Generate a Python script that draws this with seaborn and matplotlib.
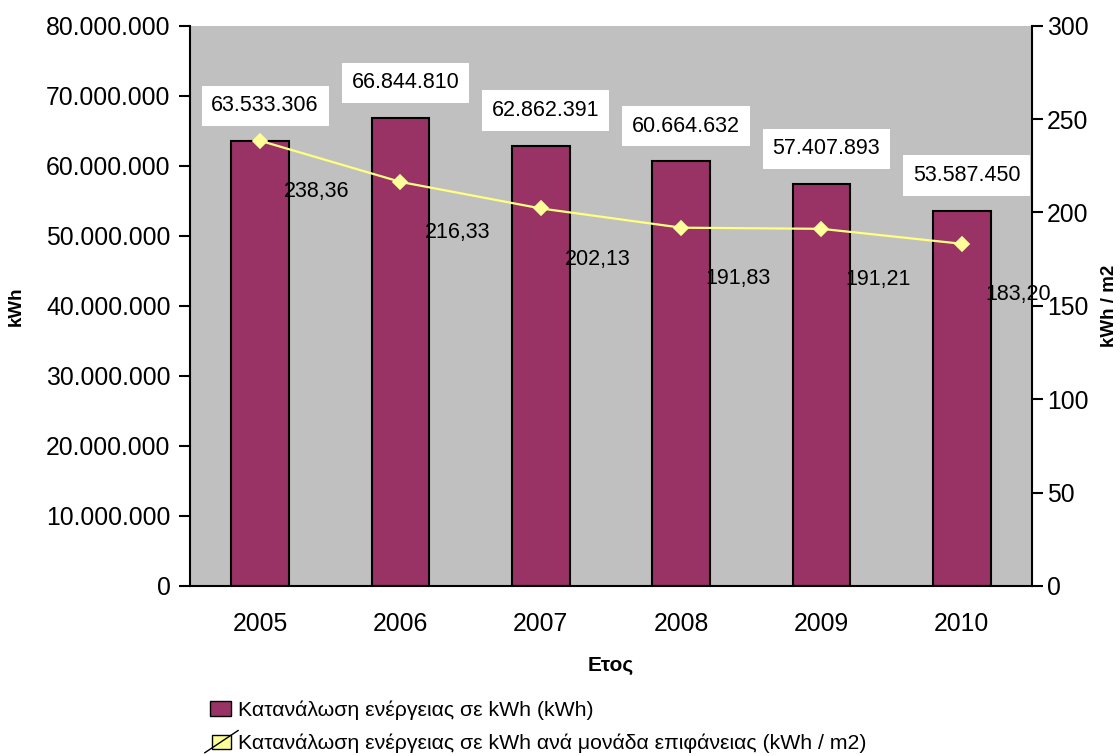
import numpy as np
import matplotlib
matplotlib.use('Agg')
import matplotlib.pyplot as plt
import seaborn as sns
from matplotlib.patches import Patch, Rectangle
from matplotlib.lines import Line2D
from matplotlib.legend_handler import HandlerBase
from matplotlib.ticker import FuncFormatter, MultipleLocator, FixedLocator

years = ['2005', '2006', '2007', '2008', '2009', '2010']
kwh = [63533306, 66844810, 62862391, 60664632, 57407893, 53587450]
kwh_m2 = [238.36, 216.33, 202.13, 191.83, 191.21, 183.20]

bar_name = 'Κατανάλωση ενέργειας σε kWh (kWh)'
line_name = 'Κατανάλωση ενέργειας σε kWh ανά μονάδα επιφάνειας (kWh / m2)'

bar_color = '#993366'
line_color = '#FFFF80'
marker_color = '#FFFF99'

sns.set_style('white')
plt.rcParams['font.family'] = ['Liberation Sans', 'DejaVu Sans']
plt.rcParams['text.color'] = 'black'
plt.rcParams['axes.labelcolor'] = 'black'
plt.rcParams['xtick.color'] = 'black'
plt.rcParams['ytick.color'] = 'black'

fig = plt.figure(figsize=(11.2, 7.56), dpi=100)
ax = fig.add_axes([0.1696, 0.2249, 0.9214 - 0.1696, 0.9661 - 0.2249])
ax.set_facecolor('#C0C0C0')

sns.barplot(x=years, y=kwh, ax=ax, color=bar_color, saturation=1,
            width=0.41, edgecolor='black', linewidth=1.5)

ax2 = ax.twinx()
sns.pointplot(x=years, y=kwh_m2, ax=ax2, color=line_color, markers='D',
              linewidth=1.6, markersize=7)
for ln in ax2.lines:
    ln.set_markerfacecolor(marker_color)
    ln.set_markeredgecolor(marker_color)

ax.set_xlim(-0.5, 5.5)
ax.set_ylim(0, 80000000)
ax2.set_ylim(0, 300)
ax.yaxis.set_major_locator(MultipleLocator(10000000))
ax2.yaxis.set_major_locator(MultipleLocator(50))
ax.yaxis.set_major_formatter(FuncFormatter(lambda v, p: f'{int(v):,}'.replace(',', '.')))

# x ticks: labels at centres, marks on category boundaries
ax.tick_params(axis='x', which='major', length=0, labelsize=17.8, pad=19)
ax.xaxis.set_minor_locator(FixedLocator(np.arange(-0.5, 6.0, 1.0)))
ax.tick_params(axis='x', which='minor', length=16, width=1.5, direction='inout',
               color='black')
ax.tick_params(axis='y', length=8, width=1.5, direction='out', labelsize=17.8,
               color='black', left=True, pad=6)
ax2.tick_params(axis='y', length=8, width=1.5, direction='out', labelsize=17.8,
                color='black', right=True, pad=3)

for sp in ['top', 'right']:
    ax.spines[sp].set_visible(False)
for sp in ['left', 'bottom']:
    ax.spines[sp].set_color('black')
    ax.spines[sp].set_linewidth(1.5)
for sp in ['top', 'left', 'bottom']:
    ax2.spines[sp].set_visible(False)
ax2.spines['right'].set_color('black')
ax2.spines['right'].set_linewidth(1.5)

ax.set_xlabel('Ετος', fontsize=15, fontweight='bold', labelpad=14)
ax.set_ylabel('kWh', fontsize=13.5, fontweight='bold', labelpad=15)
ax2.set_ylabel('kWh / m2', fontsize=13.5, fontweight='bold', labelpad=9)

# bar value labels in white boxes
for i, v in enumerate(kwh):
    ax.annotate(f'{v:,}'.replace(',', '.'), (i, v), xytext=(5, 35),
                textcoords='offset pixels', ha='center', va='center',
                fontsize=15.5,
                bbox=dict(boxstyle='square,pad=0.45', fc='white', ec='none'))

# line value labels
for i, v in enumerate(kwh_m2):
    ax2.annotate(f'{v:.2f}'.replace('.', ','), (i, v), xytext=(24, -51),
                 textcoords='offset pixels', ha='left', va='center',
                 fontsize=15.5)


class BoxLineHandler(HandlerBase):
    def create_artists(self, legend, orig_handle, xdescent, ydescent,
                       width, height, fontsize, trans):
        s = height * 0.95
        x0 = width - s * 1.4
        y0 = (height - s) / 2 - ydescent
        r = Rectangle((x0, y0), s * 1.4, s, fc=marker_color, ec='black', lw=1,
                      transform=trans)
        l = Line2D([x0 - 5, x0 + s * 1.4 + 5], [y0 - 3, y0 + s + 3],
                   color='black', lw=1, transform=trans)
        return [r, l]


bar_handle = Patch(facecolor=bar_color, edgecolor='black', linewidth=1)
line_handle = Line2D([], [], color=marker_color)
fig.legend([bar_handle, line_handle], [bar_name, line_name],
           handler_map={Line2D: BoxLineHandler()},
           loc='upper left', bbox_to_anchor=(0.18, 0.085), frameon=False,
           fontsize=15.3, handlelength=1.0, handleheight=0.7, handletextpad=0.3,
           labelspacing=0.65, borderaxespad=0)

fig.savefig('out.png', dpi=100)
